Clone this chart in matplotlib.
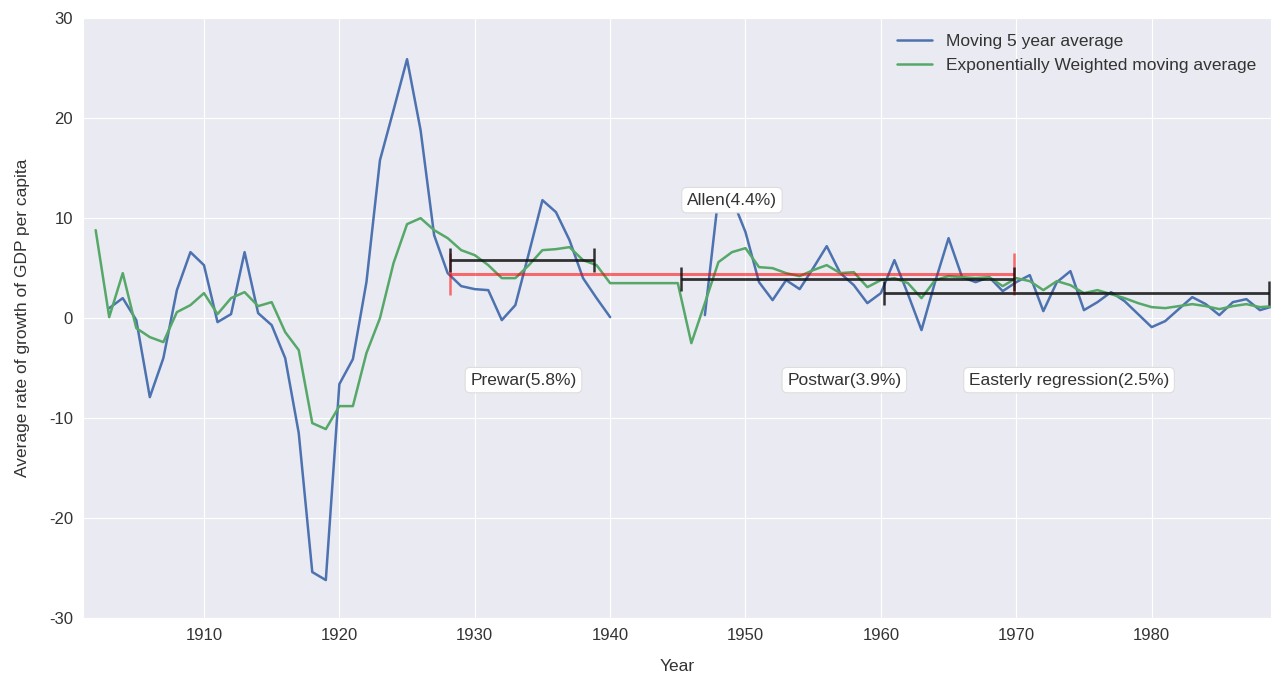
import numpy as np
import matplotlib
matplotlib.use('Agg')
import matplotlib.pyplot as plt
import seaborn as sns

## DATA

years = np.arange(1902, 1990)

# moving 5 year average (gap in the war years)
moving_avg = [np.nan, 1.0, 2.0, -0.2, -7.9, -4.0, 2.8, 6.6, 5.3, -0.4,
              0.4, 6.6, 0.5, -0.7, -4.0, -11.5, -25.4, -26.2, -6.6, -4.1,
              3.6, 15.8, 20.8, 25.9, 18.8, 8.3, 4.5, 3.2, 2.9, 2.8,
              -0.2, 1.3, 6.5, 11.8, 10.6, 7.8, 4.0, 2.0, 0.1, np.nan,
              np.nan, np.nan, np.nan, np.nan, np.nan, 0.3, 12.2, 12.0, 8.6, 3.6,
              1.8, 3.8, 2.9, 5.0, 7.2, 4.5, 3.3, 1.5, 2.5, 5.8,
              2.4, -1.2, 3.6, 8.0, 4.1, 3.6, 4.1, 2.7, 3.6, 4.3,
              0.7, 3.6, 4.7, 0.8, 1.6, 2.6, 1.7, 0.4, -0.9, -0.3,
              0.9, 2.1, 1.4, 0.3, 1.6, 1.9, 0.8, 1.2]

# exponentially weighted moving average
ewm_avg = [8.8, 0.1, 4.5, -1.0, -1.9, -2.4, 0.6, 1.3, 2.5, 0.4,
           2.0, 2.6, 1.2, 1.6, -1.4, -3.2, -10.5, -11.1, -8.8, -8.8,
           -3.5, 0.0, 5.5, 9.4, 10.0, 8.8, 8.0, 6.8, 6.3, 5.3,
           4.0, 4.0, 5.3, 6.8, 6.9, 7.1, 5.8, 5.3, 3.5, 3.5,
           3.5, 3.5, 3.5, 3.5, -2.5, 1.5, 5.6, 6.6, 7.0, 5.1,
           5.0, 4.5, 4.2, 4.8, 5.3, 4.5, 4.6, 3.1, 3.8, 4.0,
           3.5, 2.0, 3.8, 4.2, 4.1, 4.0, 4.1, 3.2, 4.0, 3.7,
           2.8, 3.7, 3.3, 2.5, 2.8, 2.4, 2.0, 1.5, 1.1, 1.0,
           1.2, 1.4, 1.2, 0.9, 1.2, 1.4, 1.1, 1.2]

# period averages
period_names = ['Prewar', 'Postwar', 'Easterly regression']
period_start = [1928.2, 1945.2, 1960.2]
period_end = [1938.8, 1969.8, 1988.7]
period_value = [5.8, 3.9, 2.5]

allen_start, allen_end, allen_value = 1928.2, 1969.8, 4.4

## PLOT

sns.set_style('darkgrid')
plt.rcParams['font.family'] = ['Liberation Sans', 'DejaVu Sans']
plt.rcParams['axes.unicode_minus'] = False

fig = plt.figure(figsize=(12.74, 6.74), dpi=100)
ax = fig.add_subplot(111)
fig.subplots_adjust(left=0.065, right=0.998, top=0.973, bottom=0.083)

ax.plot(years, moving_avg, color='#4C72B0', lw=1.8, label='Moving 5 year average')
ax.plot(years, ewm_avg, color='#55A868', lw=1.8, label='Exponentially Weighted moving average')

# Allen line in red
ax.errorbar((allen_start + allen_end) / 2, allen_value, xerr=(allen_end - allen_start) / 2,
            color='red', alpha=0.55, lw=2.2, capsize=15, capthick=1.8)

# black period bars
for s, e, v in zip(period_start, period_end, period_value):
    ax.errorbar((s + e) / 2, v, xerr=(e - s) / 2, color='#111111', alpha=0.85,
                lw=2.0, capsize=8.5, capthick=1.8)

box = dict(boxstyle='round,pad=0.3', fc='white', ec='#DDDDDD', lw=0.8)
text_x = [1933.6, 1957.3, 1973.9]
for name, v, tx in zip(period_names, period_value, text_x):
    ax.text(tx, -6.2, '%s(%.1f%%)' % (name, v), ha='center', va='center',
            fontsize=12.5, color='#333333', bbox=box, zorder=5)
ax.text(1949.0, 11.8, 'Allen(%.1f%%)' % allen_value, ha='center', va='center',
        fontsize=12.5, color='#333333', bbox=box, zorder=5)

ax.set_xlim(1901.05, 1988.85)
ax.set_ylim(-30, 30)
ax.set_xticks(np.arange(1910, 1990, 10))
ax.set_yticks(np.arange(-30, 31, 10))
ax.tick_params(labelsize=12, colors='#333333')
ax.set_xlabel('Year', fontsize=12.5, color='#333333', labelpad=12)
ax.set_ylabel('Average rate of growth of GDP per capita', fontsize=12.5, color='#333333',
              labelpad=14)

leg = ax.legend(loc='upper right', frameon=False, fontsize=12.5)
for t in leg.get_texts():
    t.set_color('#333333')

plt.savefig('out.png', dpi=100)
